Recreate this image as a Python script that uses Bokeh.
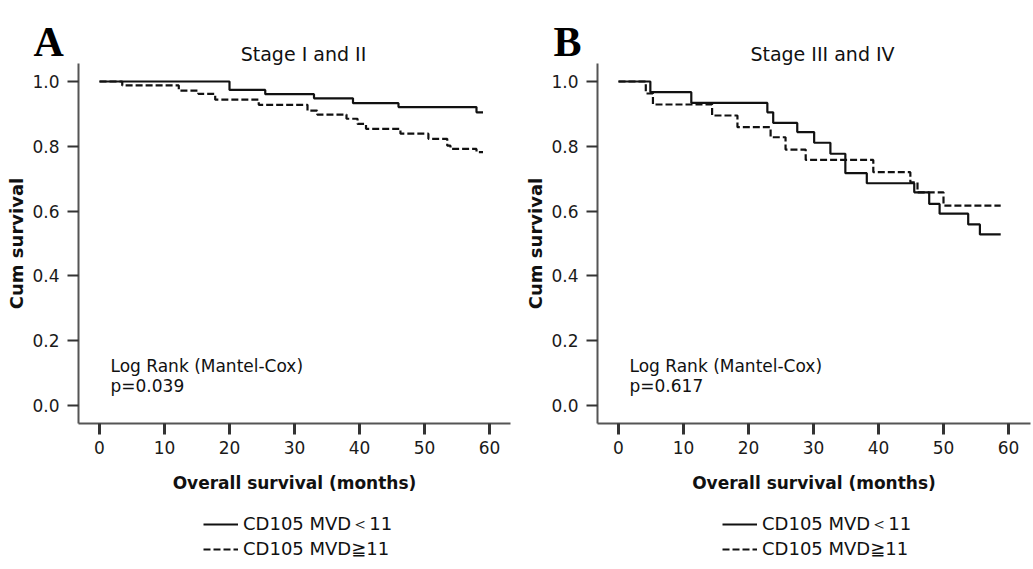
from bokeh.plotting import figure
from bokeh.models import FixedTicker, Label, Legend, LegendItem, PrintfTickFormatter, Range1d
from bokeh.layouts import row
from bokeh.embed import file_html
from bokeh.resources import INLINE

# ---- data ----
x_ticks = [0, 10, 20, 30, 40, 50, 60]
y_ticks = [0.0, 0.2, 0.4, 0.6, 0.8, 1.0]
series_labels = ["CD105 MVD\uff1c11", "CD105 MVD\u226711"]

# Stage I and II
a_low_t = [0, 20, 25.5, 33, 39, 46, 58, 59]
a_low_s = [1.0, 0.974, 0.961, 0.948, 0.933, 0.921, 0.905, 0.905]
a_high_t = [0, 3.5, 12.2, 15.2, 17.8, 24.5, 32, 33.5, 38, 39.7, 41, 46.3, 50.6, 53.5, 54, 58, 59]
a_high_s = [1.0, 0.988, 0.972, 0.962, 0.944, 0.928, 0.910, 0.898, 0.885, 0.869, 0.854, 0.839,
            0.823, 0.802, 0.792, 0.782, 0.782]

# Stage III and IV
b_low_t = [0, 4.9, 11.2, 22.9, 23.8, 27.5, 30.1, 32.6, 34.9, 38.2, 45.5, 47.8, 49.4, 53.8, 55.6, 58.8]
b_low_s = [1.0, 0.967, 0.934, 0.905, 0.872, 0.844, 0.811, 0.777, 0.717, 0.686, 0.658, 0.622,
           0.592, 0.559, 0.528, 0.528]
b_high_t = [0, 4.2, 5.3, 14.4, 18.3, 23.4, 25.7, 28.8, 39.2, 44.9, 46, 50, 58.8]
b_high_s = [1.0, 0.963, 0.929, 0.895, 0.859, 0.828, 0.790, 0.758, 0.720, 0.689, 0.658, 0.617, 0.617]

FONT = "DejaVu Sans"
H = 569
PX_PER_MONTH = 6.5
Y_TOP, Y_BOT = 1.25, -0.5062      # survival value at top / bottom edge of the figure
AX_X = -3.23                      # where the survival axis sits (months)
AX_Y = -0.0556                    # where the time axis sits (survival)


def make_panel(letter, title, t1, s1, t2, s2, pval, width, zero_px, x_axis_end):
    x0 = -zero_px / PX_PER_MONTH
    p = figure(width=width, height=H,
               x_range=Range1d(x0, x0 + width / PX_PER_MONTH), y_range=Range1d(Y_BOT, Y_TOP),
               output_backend="svg", toolbar_location=None,
               min_border_left=0, min_border_right=0, min_border_top=0, min_border_bottom=0)
    p.outline_line_color = None
    p.grid.visible = False
    p.background_fill_color = "white"
    p.border_fill_color = "white"

    xa, ya = p.xaxis[0], p.yaxis[0]
    xa.fixed_location = AX_Y
    ya.fixed_location = AX_X
    xa.bounds = (AX_X, x_axis_end)
    ya.bounds = (AX_Y, 1.056)

    for ax in (xa, ya):
        ax.axis_line_color = "#555555"
        ax.axis_line_width = 2
        ax.major_tick_line_color = "#333333"
        ax.major_tick_line_width = 3
        ax.major_tick_out = 11
        ax.major_tick_in = 0
        ax.minor_tick_line_color = None
        ax.major_label_text_font = FONT
        ax.major_label_text_font_size = "17px"
        ax.major_label_text_color = "#1a1a1a"
        ax.axis_label_text_font = FONT
        ax.axis_label_text_font_style = "bold"
        ax.axis_label_text_color = "#111111"

    xa.ticker = FixedTicker(ticks=x_ticks)
    ya.ticker = FixedTicker(ticks=y_ticks)
    ya.formatter = PrintfTickFormatter(format="%.1f")
    ya.major_tick_line_width = 2
    xa.major_label_standoff = 6
    ya.major_label_standoff = 8
    xa.axis_label = "Overall survival (months)"
    ya.axis_label = "Cum survival"
    xa.axis_label_text_font_size = "17px"
    ya.axis_label_text_font_size = "18px"
    xa.axis_label_standoff = 16
    ya.axis_label_standoff = 2

    r1 = p.step(t1, s1, mode="after", line_color="#111111", line_width=2.2)
    r2 = p.step(t2, s2, mode="after", line_color="#111111", line_width=2.2, line_dash="7 3")

    p.add_layout(Label(x=33, y=H - 59 + 18, x_units="screen", y_units="screen", text=letter,
                       text_font="Liberation Serif", text_font_style="bold", text_font_size="42px",
                       text_baseline="alphabetic", text_color="black"))
    p.add_layout(Label(x=zero_px + 204, y=H - 61 + 8, x_units="screen", y_units="screen", text=title,
                       text_font=FONT, text_font_size="19px", text_align="center",
                       text_baseline="alphabetic", text_color="#111111"))
    p.add_layout(Label(x=zero_px + 11, y=H - 372 + 7, x_units="screen", y_units="screen",
                       text="Log Rank (Mantel-Cox)",
                       text_font=FONT, text_font_size="17px", text_baseline="alphabetic", text_color="#111111"))
    p.add_layout(Label(x=zero_px + 11, y=H - 393 + 8, x_units="screen", y_units="screen", text=pval,
                       text_font=FONT, text_font_size="17px", text_baseline="alphabetic", text_color="#111111"))

    leg = Legend(items=[LegendItem(label=series_labels[0], renderers=[r1]),
                        LegendItem(label=series_labels[1], renderers=[r2])],
                 location=(zero_px + 104, 10), orientation="vertical",
                 glyph_width=35, glyph_height=20, label_height=20, spacing=2,
                 label_standoff=5, padding=0, margin=0,
                 border_line_color=None, background_fill_alpha=0,
                 label_text_font=FONT, label_text_font_size="18px", label_text_color="#111111")
    p.add_layout(leg)
    return p


pa = make_panel("A", "Stage I and II", a_low_t, a_low_s, a_high_t, a_high_s, "p=0.039",
                520, 99, 63.2)
pb = make_panel("B", "Stage III and IV", b_low_t, b_low_s, b_high_t, b_high_s, "p=0.617",
                513, 98, 63.38)

layout = row(pa, pb)
open("out.html", "w").write(file_html(layout, INLINE))
